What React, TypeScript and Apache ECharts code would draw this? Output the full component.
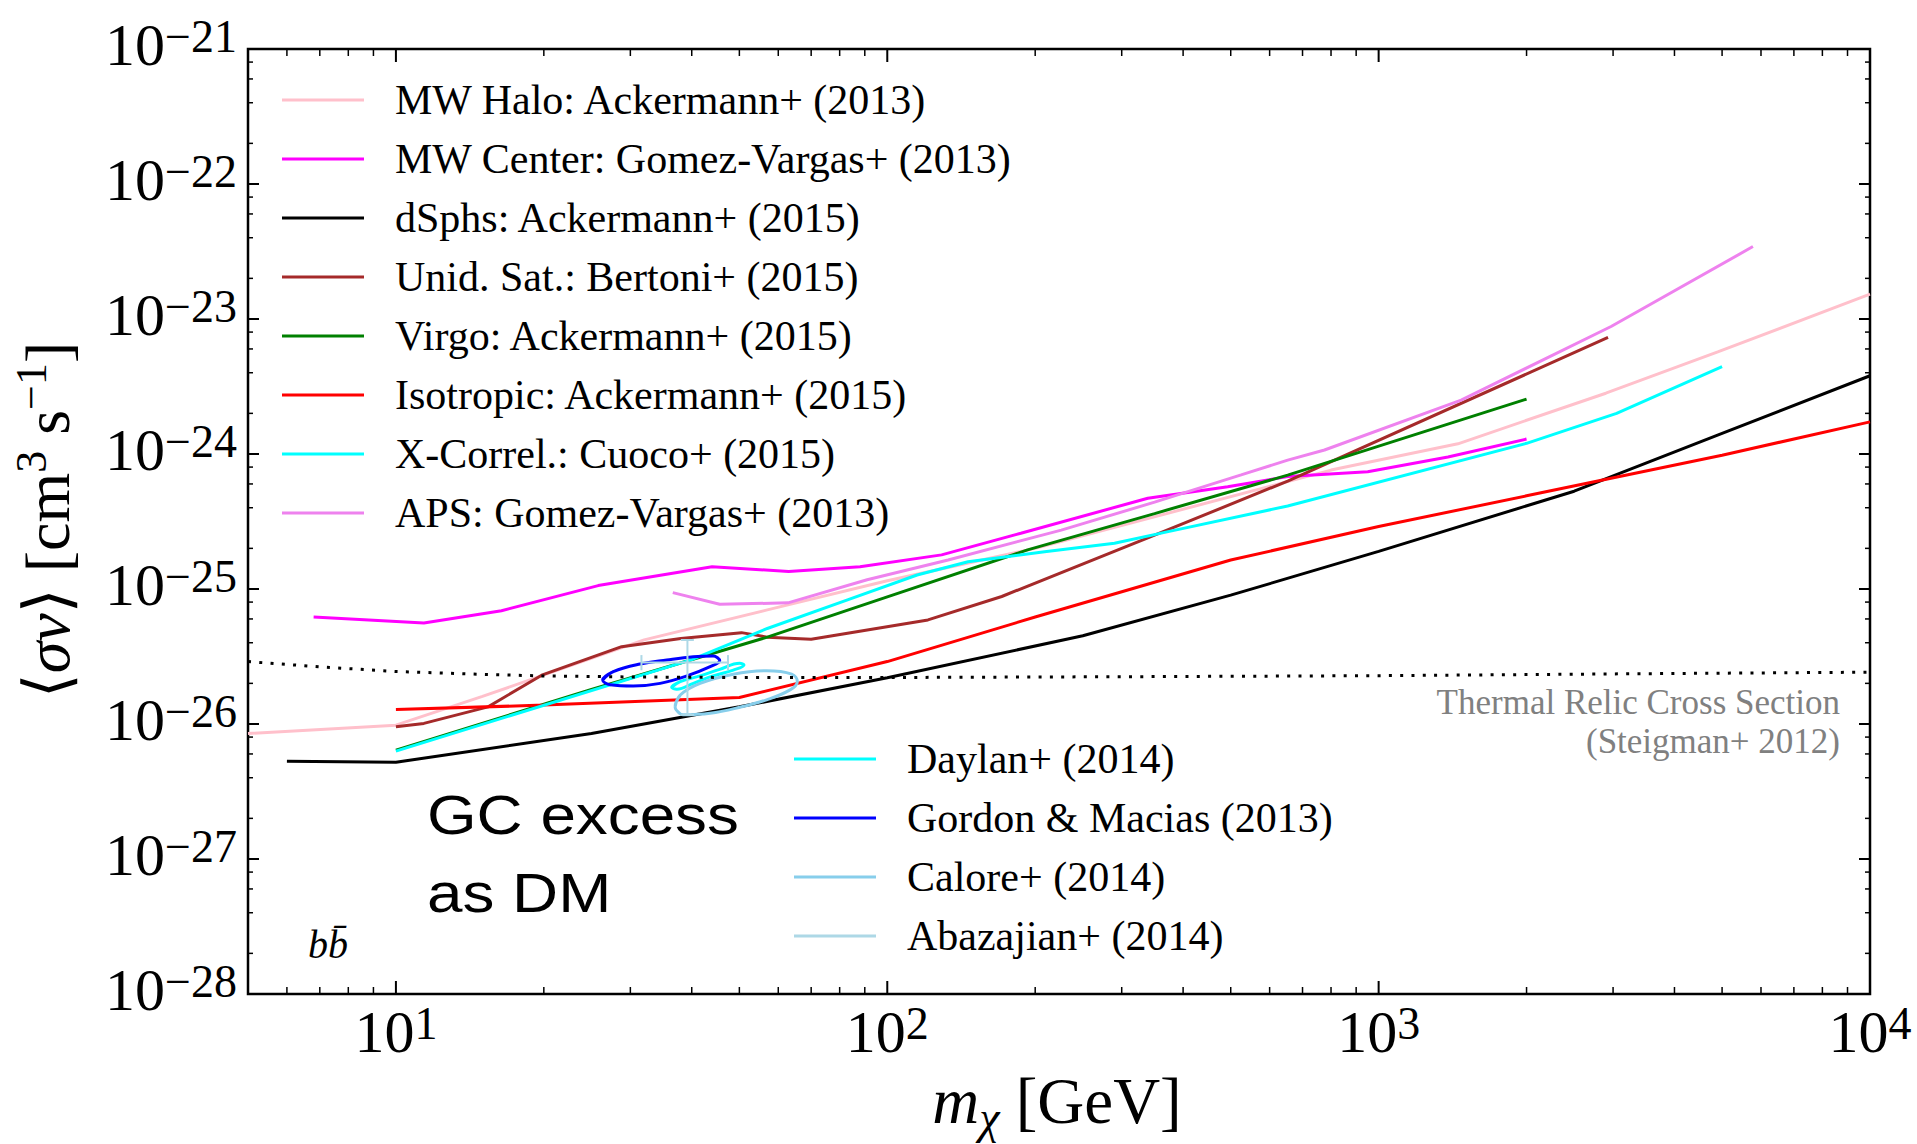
import React, { useEffect, useRef } from "react";
import * as echarts from "echarts";

const SERIF = '"Liberation Serif", "DejaVu Serif", serif';
const SANS = '"Liberation Sans", Arial, sans-serif';

const X_MIN = 5;
const X_MAX = 10000;
const Y_MIN = 1e-28;
const Y_MAX = 1e-21;

// ---- tick values ----
const X_MAJOR_TICKS = [10, 100, 1000, 10000];
const X_MINOR_TICKS = [
  6, 7, 8, 9, 20, 30, 40, 50, 60, 70, 80, 90, 200, 300, 400, 500, 600, 700, 800, 900,
  2000, 3000, 4000, 5000, 6000, 7000, 8000, 9000,
];
const Y_MAJOR_TICKS = [1e-28, 1e-27, 1e-26, 1e-25, 1e-24, 1e-23, 1e-22, 1e-21];
const Y_MINOR_TICKS = [
  2e-28, 4e-28, 6e-28, 8e-28, 2e-27, 4e-27, 6e-27, 8e-27, 2e-26, 4e-26, 6e-26, 8e-26,
  2e-25, 4e-25, 6e-25, 8e-25, 2e-24, 4e-24, 6e-24, 8e-24, 2e-23, 4e-23, 6e-23, 8e-23,
  2e-22, 4e-22, 6e-22, 8e-22,
];
const X_LABEL_EXPONENTS = [1, 2, 3, 4];
const Y_LABEL_EXPONENTS = [-28, -27, -26, -25, -24, -23, -22, -21];

// ---- limits (mass in GeV, <sigma v> in cm^3 s^-1) ----
const haloMass = [5, 10, 15, 32, 57, 100, 200, 800, 1450, 2900, 4900, 10000];
const haloSv = [8.5e-27, 9.8e-27, 1.6e-26, 4.2e-26, 7.0e-26, 1.15e-25, 2.0e-25, 7.6e-25, 1.19e-24, 2.82e-24, 5.7e-24, 1.53e-23];

const centerMass = [6.8, 11.4, 16.4, 25.8, 44, 63, 88, 129, 187, 339, 493, 653, 950, 1384, 2000];
const centerSv = [6.2e-26, 5.6e-26, 6.9e-26, 1.06e-25, 1.46e-25, 1.35e-25, 1.46e-25, 1.79e-25, 2.59e-25, 4.7e-25, 5.73e-25, 6.8e-25, 7.4e-25, 9.5e-25, 1.29e-24];

const dsphMass = [6, 10, 25, 50, 100, 250, 500, 1000, 2500, 5000, 10000];
const dsphSv = [5.3e-27, 5.2e-27, 8.5e-27, 1.34e-26, 2.2e-26, 4.5e-26, 9.0e-26, 1.9e-25, 5.3e-25, 1.42e-24, 3.8e-24];

const unidMass = [10, 11.4, 15.4, 19.8, 28.8, 38, 50.5, 57, 70, 121, 171, 344, 653, 2930];
const unidSv = [9.55e-27, 1.01e-26, 1.34e-26, 2.3e-26, 3.74e-26, 4.3e-26, 4.75e-26, 4.4e-26, 4.24e-26, 5.9e-26, 8.8e-26, 2.44e-25, 6.3e-25, 7.3e-24];

const virgoMass = [10, 25, 57, 100, 193, 350, 653, 2000];
const virgoSv = [6.4e-27, 1.8e-26, 4.4e-26, 8.75e-26, 1.95e-25, 3.62e-25, 6.98e-25, 2.55e-24];

const isoMass = [10, 20, 50, 100, 200, 500, 1000, 2000, 5000, 10000];
const isoSv = [1.28e-26, 1.38e-26, 1.57e-26, 2.9e-26, 6.2e-26, 1.64e-25, 2.9e-25, 4.9e-25, 9.8e-25, 1.73e-24];

const xcorrMass = [10, 40, 57, 83, 115, 146, 209, 290, 373, 653, 2000, 3050, 5000];
const xcorrSv = [6.3e-27, 3.0e-26, 5.1e-26, 8.3e-26, 1.27e-25, 1.59e-25, 1.89e-25, 2.18e-25, 2.66e-25, 4.12e-25, 1.2e-24, 2.0e-24, 4.44e-24];

const apsMass = [36.6, 45.6, 62.8, 91, 133, 226, 350, 525, 653, 776, 1472, 2972, 5778];
const apsSv = [9.4e-26, 7.7e-26, 7.9e-26, 1.17e-25, 1.64e-25, 2.73e-25, 4.4e-25, 7.0e-25, 9.0e-25, 1.07e-24, 2.51e-24, 8.8e-24, 3.44e-23];

// ---- GC excess regions (closed contours) ----
const daylanMass = [36.4, 37.9, 41.6, 45.6, 50.1, 51.1, 48.6, 44.2, 40.3, 37.3, 36.4, 37.9];
const daylanSv = [1.87e-26, 2.06e-26, 2.27e-26, 2.54e-26, 2.82e-26, 2.74e-26, 2.51e-26, 2.27e-26, 2.0e-26, 1.81e-26, 1.87e-26, 2.06e-26];

const gordonMass = [26.35, 27.7, 31.4, 35.6, 40.3, 44.2, 45.6, 43.6, 39.1, 34.5, 30.4, 27.3, 26.35, 27.7];
const gordonSv = [2.12e-26, 2.44e-26, 2.78e-26, 2.98e-26, 3.15e-26, 3.19e-26, 2.94e-26, 2.66e-26, 2.27e-26, 2.0e-26, 1.91e-26, 1.95e-26, 2.12e-26, 2.44e-26];

const caloreMass = [37.0, 37.9, 41.6, 48.6, 56.8, 63.9, 65.6, 63.4, 56.8, 50.1, 43.6, 38.4, 37.2, 37.0, 37.9];
const caloreSv = [1.34e-26, 1.64e-26, 2.0e-26, 2.34e-26, 2.48e-26, 2.34e-26, 2.06e-26, 1.79e-26, 1.51e-26, 1.33e-26, 1.2e-26, 1.17e-26, 1.27e-26, 1.34e-26, 1.64e-26];

// Abazajian+ (2014): best-fit point with error bars
const abazajianPoint = [39.2, 2.85e-26];
const abazajianMassRange = [31.6, 47.4];
const abazajianSvRange = [1.17e-26, 4.19e-26];
const abazajianCapMass = [38.0, 40.4];
const abazajianCapSv = [2.5e-26, 3.24e-26];

// ---- thermal relic cross section ----
const thermalMass = [5, 7, 10, 15, 20, 30, 50, 100, 300, 1000, 3000, 10000];
const thermalSv = [2.9e-26, 2.65e-26, 2.45e-26, 2.33e-26, 2.27e-26, 2.23e-26, 2.21e-26, 2.21e-26, 2.24e-26, 2.28e-26, 2.35e-26, 2.42e-26];

const LEGEND_TOP = [
  "MW Halo: Ackermann+ (2013)",
  "MW Center: Gomez-Vargas+ (2013)",
  "dSphs: Ackermann+ (2015)",
  "Unid. Sat.: Bertoni+ (2015)",
  "Virgo: Ackermann+ (2015)",
  "Isotropic: Ackermann+ (2015)",
  "X-Correl.: Cuoco+ (2015)",
  "APS: Gomez-Vargas+ (2013)",
];
const LEGEND_GC = ["Daylan+ (2014)", "Gordon & Macias (2013)", "Calore+ (2014)", "Abazajian+ (2014)"];

const zip = (xs: number[], ys: number[]) => xs.map((x, i) => [x, ys[i]]);

const line = (name: string, data: number[][], color: string, extra: any = {}) => ({
  type: "line",
  name,
  data,
  symbol: "none",
  showSymbol: false,
  silent: true,
  lineStyle: { color, width: 3 },
  itemStyle: { color },
  emphasis: { disabled: true },
  ...extra,
});

const supText = (e: number) => (e < 0 ? "\u2212" + Math.abs(e) : String(e));

const tickRich = {
  b: { fontFamily: SERIF, fontSize: 60, lineHeight: 62, verticalAlign: "bottom", fill: "#000" },
  s: { fontFamily: SERIF, fontSize: 46, lineHeight: 34, verticalAlign: "top", fill: "#000" },
};

function buildOption() {
  const xTickData = [
    ...X_MAJOR_TICKS.map((v) => [v, Y_MIN, 1]),
    ...X_MINOR_TICKS.map((v) => [v, Y_MIN, 0]),
  ];
  const yTickData = [
    ...Y_MAJOR_TICKS.map((v) => [X_MIN, v, 1]),
    ...Y_MINOR_TICKS.map((v) => [X_MIN, v, 0]),
  ];

  const abazajianColor = "#add8e6";
  const abazajianName = LEGEND_GC[3];
  const errSeg = (pts: number[][]) =>
    line(abazajianName, pts, abazajianColor, { lineStyle: { color: abazajianColor, width: 2 }, z: 3 });

  const series: any[] = [
    line(LEGEND_TOP[0], zip(haloMass, haloSv), "#ffc0cb"),
    line(LEGEND_TOP[1], zip(centerMass, centerSv), "#ff00ff"),
    line(LEGEND_TOP[2], zip(dsphMass, dsphSv), "#000000"),
    line(LEGEND_TOP[3], zip(unidMass, unidSv), "#a52a2a"),
    line(LEGEND_TOP[4], zip(virgoMass, virgoSv), "#008000"),
    line(LEGEND_TOP[5], zip(isoMass, isoSv), "#ff0000"),
    line(LEGEND_TOP[6], zip(xcorrMass, xcorrSv), "#00ffff"),
    line(LEGEND_TOP[7], zip(apsMass, apsSv), "#ee82ee"),
    line(LEGEND_GC[0], zip(daylanMass, daylanSv), "#00ffff", { smooth: 0.4, z: 3 }),
    line(LEGEND_GC[1], zip(gordonMass, gordonSv), "#0000ff", { smooth: 0.4, z: 3 }),
    line(LEGEND_GC[2], zip(caloreMass, caloreSv), "#87ceeb", { smooth: 0.4, z: 3 }),
    errSeg([[abazajianMassRange[0], abazajianPoint[1]], [abazajianMassRange[1], abazajianPoint[1]]]),
    errSeg([[abazajianPoint[0], abazajianSvRange[0]], [abazajianPoint[0], abazajianSvRange[1]]]),
    errSeg([[abazajianCapMass[0], abazajianSvRange[1]], [abazajianCapMass[1], abazajianSvRange[1]]]),
    errSeg([[abazajianCapMass[0], abazajianSvRange[0]], [abazajianCapMass[1], abazajianSvRange[0]]]),
    errSeg([[abazajianMassRange[0], abazajianCapSv[0]], [abazajianMassRange[0], abazajianCapSv[1]]]),
    errSeg([[abazajianMassRange[1], abazajianCapSv[0]], [abazajianMassRange[1], abazajianCapSv[1]]]),
    {
      type: "line",
      name: "Thermal relic",
      data: zip(thermalMass, thermalSv),
      symbol: "none",
      silent: true,
      z: 4,
      lineStyle: { color: "#000", width: 3, type: [3, 8.3], cap: "butt" },
      itemStyle: { color: "#000" },
    },
    // axis ticks, inward on all four sides
    {
      type: "custom",
      silent: true,
      clip: false,
      z: 10,
      data: xTickData,
      renderItem: (_p: any, api: any) => {
        const v = api.value(0);
        const major = api.value(2) === 1;
        const len = major ? 13 : 7;
        const lw = major ? 2 : 1.5;
        const b = api.coord([v, Y_MIN]);
        const t = api.coord([v, Y_MAX]);
        return {
          type: "group",
          children: [
            { type: "line", shape: { x1: b[0], y1: b[1], x2: b[0], y2: b[1] - len }, style: { stroke: "#000", lineWidth: lw } },
            { type: "line", shape: { x1: t[0], y1: t[1], x2: t[0], y2: t[1] + len }, style: { stroke: "#000", lineWidth: lw } },
          ],
        };
      },
    },
    {
      type: "custom",
      silent: true,
      clip: false,
      z: 10,
      data: yTickData,
      renderItem: (_p: any, api: any) => {
        const v = api.value(1);
        const major = api.value(2) === 1;
        const len = major ? 11 : 5;
        const lw = major ? 2 : 1.5;
        const l = api.coord([X_MIN, v]);
        const r = api.coord([X_MAX, v]);
        return {
          type: "group",
          children: [
            { type: "line", shape: { x1: l[0], y1: l[1], x2: l[0] + len, y2: l[1] }, style: { stroke: "#000", lineWidth: lw } },
            { type: "line", shape: { x1: r[0], y1: r[1], x2: r[0] - len, y2: r[1] }, style: { stroke: "#000", lineWidth: lw } },
          ],
        };
      },
    },
    // tick labels 10^n
    {
      type: "custom",
      silent: true,
      clip: false,
      z: 10,
      data: X_LABEL_EXPONENTS.map((e) => [Math.pow(10, e), Y_MIN, e]),
      renderItem: (_p: any, api: any) => {
        const p = api.coord([api.value(0), Y_MIN]);
        const e = api.value(2);
        return {
          type: "text",
          x: p[0],
          y: p[1] + 37,
          style: {
            text: `{b|10}{s|${supText(e)}}`,
            rich: tickRich,
            align: "center",
            verticalAlign: "middle",
            textAlign: "center",
            textVerticalAlign: "middle",
            fill: "#000",
          },
        };
      },
    },
    {
      type: "custom",
      silent: true,
      clip: false,
      z: 10,
      data: Y_LABEL_EXPONENTS.map((e) => [X_MIN, Math.pow(10, e), e]),
      renderItem: (_p: any, api: any) => {
        const p = api.coord([X_MIN, api.value(1)]);
        const e = api.value(2);
        return {
          type: "text",
          x: p[0] - 11,
          y: p[1] - 5,
          style: {
            text: `{b|10}{s|${supText(e)}}`,
            rich: tickRich,
            align: "right",
            verticalAlign: "middle",
            textAlign: "right",
            textVerticalAlign: "middle",
            fill: "#000",
          },
        };
      },
    },
  ];

  const legendBase = {
    orient: "vertical",
    padding: 0,
    itemWidth: 82,
    itemHeight: 3,
    itemGap: 17,
    icon: "rect",
    selectedMode: false,
    textStyle: { fontFamily: SERIF, fontSize: 42, lineHeight: 42, color: "#000", padding: [0, 0, 0, 26] },
  };

  const graphicText = (x: number, y: number, text: string, style: any, extra: any = {}) => ({
    type: "text",
    x,
    y,
    silent: true,
    z: 20,
    ...extra,
    style: { text, fill: "#000", ...style },
  });

  return {
    animation: false,
    backgroundColor: "#ffffff",
    textStyle: { fontFamily: SERIF },
    grid: {
      left: 248,
      top: 49,
      width: 1622,
      height: 945,
      show: true,
      borderColor: "#000",
      borderWidth: 2.5,
      backgroundColor: "transparent",
      containLabel: false,
    },
    xAxis: {
      type: "log",
      logBase: 10,
      min: X_MIN,
      max: X_MAX,
      axisLine: { show: false },
      axisTick: { show: false },
      axisLabel: { show: false },
      splitLine: { show: false },
      minorTick: { show: false },
    },
    yAxis: {
      type: "log",
      logBase: 10,
      min: Y_MIN,
      max: Y_MAX,
      axisLine: { show: false },
      axisTick: { show: false },
      axisLabel: { show: false },
      splitLine: { show: false },
      minorTick: { show: false },
    },
    legend: [
      { ...legendBase, data: LEGEND_TOP, left: 282, top: 79 },
      { ...legendBase, data: LEGEND_GC, left: 794, top: 738 },
    ],
    graphic: [
      graphicText(1057, 1104, "{m|m}{c|\u03c7}{n| [GeV]}", {
        align: "center",
        verticalAlign: "middle",
        rich: {
          m: { fontFamily: SERIF, fontStyle: "italic", fontSize: 65, lineHeight: 72, verticalAlign: "top", fill: "#000" },
          c: { fontFamily: SERIF, fontStyle: "italic", fontSize: 46, lineHeight: 40, verticalAlign: "bottom", fill: "#000" },
          n: { fontFamily: SERIF, fontSize: 65, lineHeight: 72, verticalAlign: "top", fill: "#000" },
        },
      }),
      graphicText(44, 520, "{n|\u27e8}{i|\u03c3v}{n|\u27e9 [cm}{s|3}{n| s}{s|\u22121}{n|]}", {
        align: "center",
        verticalAlign: "middle",
        rich: {
          n: { fontFamily: SERIF, fontSize: 64, lineHeight: 70, verticalAlign: "bottom", fill: "#000" },
          i: { fontFamily: SERIF, fontStyle: "italic", fontSize: 64, lineHeight: 70, verticalAlign: "bottom", fill: "#000" },
          s: { fontFamily: SERIF, fontSize: 44, lineHeight: 40, verticalAlign: "top", fill: "#000" },
        },
      }, { rotation: Math.PI / 2 }),
      graphicText(1840, 702, "Thermal Relic Cross Section", {
        fontFamily: SERIF, fontSize: 35, fill: "#808080", align: "right", verticalAlign: "middle",
      }),
      graphicText(1840, 741, "(Steigman+ 2012)", {
        fontFamily: SERIF, fontSize: 35, fill: "#808080", align: "right", verticalAlign: "middle",
      }),
      graphicText(427, 815, "GC excess", {
        fontFamily: SANS, fontSize: 55, align: "left", verticalAlign: "middle",
      }, { scaleX: 1.16 }),
      graphicText(427, 893, "as DM", {
        fontFamily: SANS, fontSize: 55, align: "left", verticalAlign: "middle",
      }, { scaleX: 1.16 }),
      graphicText(328, 944, "bb\u0304", {
        fontFamily: SERIF, fontStyle: "italic", fontSize: 40, align: "center", verticalAlign: "middle",
      }),
    ],
    series,
  };
}

export default function App() {
  const ref = useRef<HTMLDivElement>(null);
  useEffect(() => {
    if (!ref.current) return;
    const chart = echarts.init(ref.current, undefined, { renderer: "svg" });
    chart.setOption(buildOption() as any);
    return () => chart.dispose();
  }, []);
  return (
    <div
      ref={ref}
      style={{ position: "fixed", left: 0, top: 0, width: 1917, height: 1144, background: "#fff" }}
    />
  );
}
